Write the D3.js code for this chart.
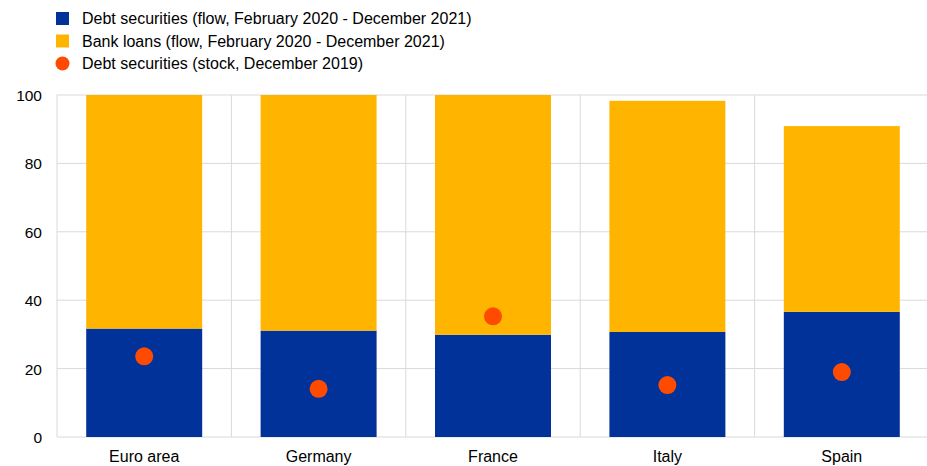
<!DOCTYPE html>
<html><head><meta charset="utf-8">
<script src="https://cdn.jsdelivr.net/npm/d3@7"></script>
<style>body{margin:0;background:#fff;}svg text{font-family:"Liberation Sans",Arial,sans-serif;fill:#000;}</style>
</head><body><svg id="c" width="927" height="466"></svg>
<script>
const categories = ["Euro area","Germany","France","Italy","Spain"];
const debtFlow = [31.7, 31.1, 29.9, 30.7, 36.6];
const bankLoans = [68.3, 68.9, 70.1, 67.6, 54.3];
const debtStock = [23.6, 14.1, 35.3, 15.2, 19.0];
const yTicks = [0,20,40,60,80,100];
const legendLabels = ["Debt securities (flow, February 2020 - December 2021)","Bank loans (flow, February 2020 - December 2021)","Debt securities (stock, December 2019)"];
const colors = {blue:"#003299", yellow:"#FFB400", orange:"#FF4B00", grid:"#d9d9d9"};

const svg = d3.select("#c");
const m = {left:57, right:929, top:95, bottom:437};
const x = d3.scaleBand().domain(categories).range([m.left, m.right]).paddingInner(0.335).paddingOuter(0.1675);
const xg = d3.scaleBand().domain(categories).range([m.left, m.right]);
const y = d3.scaleLinear().domain([0,100]).range([m.bottom, m.top]);

// grid
const g = svg.append("g");
g.selectAll(".hg").data(yTicks).join("line").attr("x1", m.left).attr("x2", 927)
  .attr("y1", d=>y(d)).attr("y2", d=>y(d)).attr("stroke", colors.grid).attr("stroke-width",1);
g.selectAll(".vg").data(categories).join("line").attr("x1", d=>xg(d)).attr("x2", d=>xg(d))
  .attr("y1", m.top).attr("y2", m.bottom).attr("stroke", colors.grid).attr("stroke-width",1);

// bars
const data = categories.map((c,i)=>({c, a:debtFlow[i], b:bankLoans[i], s:debtStock[i]}));
svg.selectAll(".b1").data(data).join("rect").attr("x", d=>x(d.c)).attr("width", x.bandwidth())
  .attr("y", d=>y(d.a)).attr("height", d=>y(0)-y(d.a)).attr("fill", colors.blue);
svg.selectAll(".b2").data(data).join("rect").attr("x", d=>x(d.c)).attr("width", x.bandwidth())
  .attr("y", d=>y(d.a+d.b)).attr("height", d=>y(d.a)-y(d.a+d.b)).attr("fill", colors.yellow);
svg.selectAll(".dot").data(data).join("circle").attr("cx", d=>x(d.c)+x.bandwidth()/2)
  .attr("cy", d=>y(d.s)).attr("r", 9).attr("fill", colors.orange);

// axes
const ya = d3.axisLeft(y).tickValues(yTicks).tickSize(0).tickPadding(15);
const yG = svg.append("g").attr("transform",`translate(${m.left},0)`).call(ya);
yG.select(".domain").remove();
yG.selectAll("text").style("font-size","15.5px").attr("dy","0.35em");
const xa = d3.axisBottom(x).tickSize(0).tickPadding(14);
const xG = svg.append("g").attr("transform",`translate(0,${m.bottom})`).call(xa);
xG.select(".domain").remove();
xG.selectAll("text").style("font-size","16px");

// legend
const lg = svg.append("g");
legendLabels.forEach((t,i)=>{
  const cy = 18.5 + i*22.5;
  if(i<2) lg.append("rect").attr("x",56).attr("y",cy-6.5).attr("width",13).attr("height",13).attr("fill", i===0?colors.blue:colors.yellow);
  else lg.append("circle").attr("cx",62.5).attr("cy",cy).attr("r",7).attr("fill",colors.orange);
  lg.append("text").attr("x",82).attr("y",cy).attr("dy","0.35em").style("font-size","16px").text(t);
});
</script></body></html>
